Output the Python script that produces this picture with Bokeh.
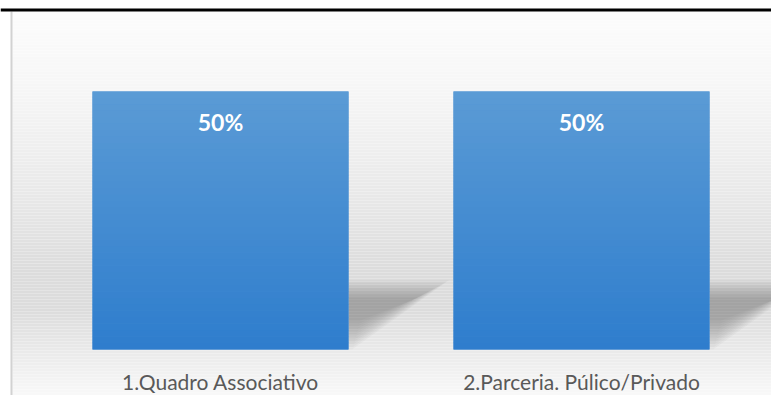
from bokeh.plotting import figure
from bokeh.models import Range1d, BoxAnnotation, ColumnDataSource
from bokeh.core.properties import value
from bokeh.embed import file_html
from bokeh.resources import INLINE

categories = ["1.Quadro Associativo", "2.Parceria. Púlico/Privado"]
percent_values = [50, 50]

W, H = 771, 395
PPU = 5.16                    # pixels per percent unit
Y_START = -(H - 349) / PPU
Y_END = 50 + 91 / PPU
XPX = 361.0
X_START = -220 / XPX
X_END = X_START + W / XPX
BAR_W = 256 / XPX

p = figure(width=W, height=H, output_backend="svg", toolbar_location=None,
           x_range=Range1d(X_START, X_END), y_range=Range1d(Y_START, Y_END),
           min_border=0, min_border_left=0, min_border_right=0,
           min_border_top=0, min_border_bottom=0)
p.axis.visible = False
p.grid.visible = False
p.outline_line_color = None
p.background_fill_color = "white"
p.border_fill_color = "white"


def sbox(left, right, top, bottom, color, level="underlay"):
    # screen box given in top-down pixel coordinates
    p.add_layout(BoxAnnotation(left=left, right=right, top=H - top, bottom=H - bottom,
                               left_units="screen", right_units="screen",
                               top_units="screen", bottom_units="screen",
                               fill_color=color, fill_alpha=1.0,
                               line_color=None, level=level))


# background gradient (screen-space bands)
stops = [(11, 252), (90, 246), (190, 233), (270, 220), (310, 220), (350, 233), (395, 249)]
def grey_at(y):
    for (y0, g0), (y1, g1) in zip(stops[:-1], stops[1:]):
        if y0 <= y <= y1:
            return g0 + (g1 - g0) * (y - y0) / (y1 - y0)
    return stops[-1][1]
step = 3
for y in range(11, H, step):
    g = int(round(grey_at(y + step / 2)))
    sbox(12, W, y, min(y + step, H), (g, g, g))
# left border of the panel
sbox(10, 12, 11, H, "#d2d2d2")
# black top rule
sbox(0, W, 8, 11, "black", level="overlay")

xs = list(range(len(categories)))

# soft shadows to the right of each bar
nl = 12
for i, v in enumerate(percent_values):
    r = xs[i] + BAR_W / 2
    for k in range(nl):
        f = k / (nl - 1)
        t = v * (0.27 - 0.07 * f)
        b = v * 0.11 * f
        wx = 0.28 - 0.09 * f
        p.patch([r, r, r + wx, r + 0.01 + 0.02 * f], [b, t, t, b],
                fill_color="#555555", fill_alpha=0.045, line_color=None)

# bars
p.vbar(x=xs, top=percent_values, width=BAR_W, bottom=0,
       fill_color="#4a8fd3", line_color=None)

# vertical gradient overlay on bars
n = 40
top_c = (91, 155, 213)
bot_c = (46, 125, 205)
for i, v in enumerate(percent_values):
    L, R, B, T, C = [], [], [], [], []
    for k in range(n):
        f = (k + 0.5) / n
        c = tuple(int(round(bot_c[j] + (top_c[j] - bot_c[j]) * f)) for j in range(3))
        L.append(xs[i] - BAR_W / 2)
        R.append(xs[i] + BAR_W / 2)
        B.append(v * k / n)
        T.append(v * (k + 1) / n + (0.05 if k < n - 1 else 0))
        C.append("#%02x%02x%02x" % c)
    p.quad(left=L, right=R, bottom=B, top=T, fill_color=C, line_color=None)

# value labels
src = ColumnDataSource(dict(x=xs, y=percent_values,
                            t=[f"{v}%" for v in percent_values],
                            cat=categories, zero=[0] * len(xs)))
p.text(x="x", y="y", text="t", source=src, y_offset=30,
       text_align="center", text_baseline="middle",
       text_font=value("Lato"), text_font_style="bold",
       text_font_size="23px", text_color="white")

# category labels
p.text(x="x", y="zero", text="cat", source=src, y_offset=32,
       text_align="center", text_baseline="middle",
       text_font=value("Lato"), text_font_size="21px", text_color="#595959")

open("out.html", "w").write(file_html(p, INLINE))
